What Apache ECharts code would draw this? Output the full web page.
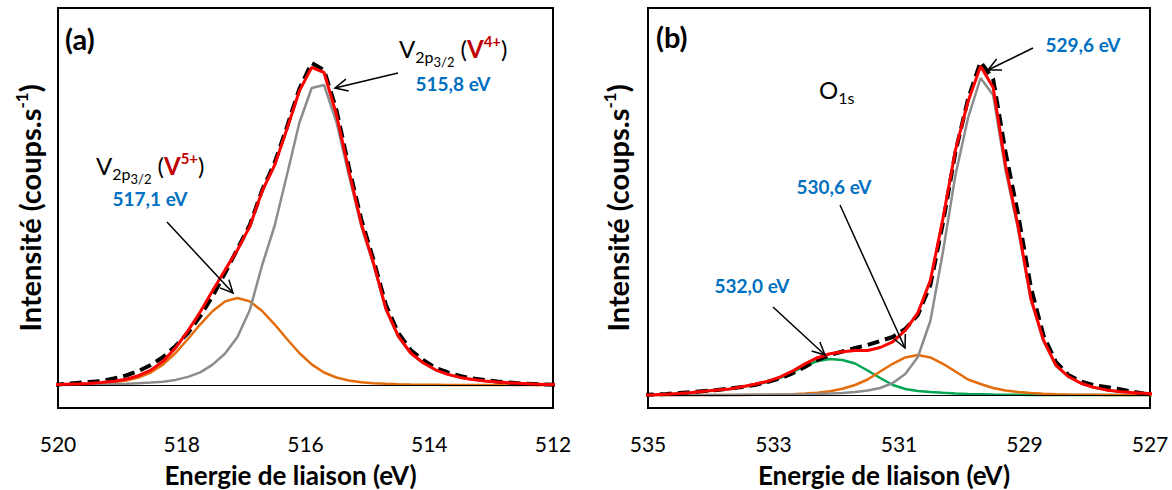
<!DOCTYPE html>
<html>
<head>
<meta charset="utf-8">
<script src="https://cdn.jsdelivr.net/npm/echarts@6/dist/echarts.min.js"></script>
<style>
html,body{margin:0;padding:0;background:#fff;}
#chart{width:1172px;height:490px;}
</style>
</head>
<body>
<div id="chart"></div>
<script>
// ---------------- DATA ----------------
// Panel (a): V 2p3/2 region (binding energy, eV)
const energyA = [520.1,519.9,519.7,519.5,519.3,519.1,518.9,518.7,518.5,518.3,518.1,517.9,517.7,517.5,517.3,517.1,516.9,516.7,516.5,516.3,516.1,515.9,515.7,515.5,515.3,515.1,514.9,514.7,514.5,514.3,514.1,513.9,513.7,513.5,513.3,513.1,512.9,512.7,512.5,512.3,512.1,511.9];
const expA    = [0,1,2,3,4,6.5,9.5,14,20,28,39,52,69,89,112,136,160,195,222,258,296,322,315,275,218,166,125,80,52,35,25,17,12.5,9,6.5,5,3.5,2.5,1.5,1,0.5,0];
const v4A     = [0.1,0.2,0.3,0.3,0.6,0.9,1.2,1.8,2.4,3.3,5.1,8.1,12.6,20.4,31.5,48,75,120,159,210,262,297,300,263,210,159,120,75,48,31.5,22,15,10.5,7.5,5.5,4,3,2.2,1.6,1,0.6,0.3];
const v5A     = [0.3,0.5,0.8,1.2,1.8,2.8,4.5,7.5,12.5,20.6,32,46,60.7,74,83.6,87,83.6,74,60.7,46,32,20.6,12.5,7.5,4.5,2.8,1.8,1.2,0.8,0.5,0.3,0.2,0.1,0.1,0,0,0,0,0,0,0,0];
const fitA    = [0.4,0.7,1.1,1.5,2.4,3.7,5.7,9.3,14.9,23.9,37.1,54.1,73.3,94.4,115.1,135,158.6,194,219.7,256,294,317.6,312.5,270.5,214.5,161.8,121.8,76.2,48.8,32,22.3,15.2,10.6,7.6,5.5,4,3,2.2,1.6,1,0.6,0.3];
const ticksA  = [520,518,516,514,512];

// Panel (b): O 1s region
const energyB = [535.1,534.9,534.7,534.5,534.3,534.1,533.9,533.7,533.5,533.3,533.1,532.9,532.7,532.5,532.3,532.1,531.9,531.7,531.5,531.3,531.1,530.9,530.7,530.5,530.3,530.1,529.9,529.7,529.5,529.3,529.1,528.9,528.7,528.5,528.3,528.1,527.9,527.7,527.5,527.3,527.1,526.9];
const expB    = [0,0.5,1,2,3,4,5,6.5,8,10,13,16.5,21.5,28,35,40,43.5,47,50,54,58,66,80,110,172,243,296,333,316,242,180,108,60,33,20,13.5,10,8,6,3.5,1.5,0.5];
const o529B   = [0,0,0,0.1,0.1,0.1,0.1,0.1,0.2,0.2,0.3,0.4,0.5,0.7,1,1.4,2,3,4.5,7,12,21,38,74,143,220,277,317,300,224,165,95,54,29,18,11.5,7.5,5,3.5,2.5,1.7,1.2];
const o530B   = [0,0,0,0,0,0,0,0,0.1,0.2,0.3,0.5,0.8,1.4,2.3,3.8,6.2,10,15.5,23.5,31.2,37.6,40,37.6,31.2,23.5,15.5,11,7,4.5,3,2,1.2,0.8,0.5,0.3,0.2,0.1,0,0,0,0];
const o532B   = [0,0.3,0.8,1.5,2.5,3.7,4.8,6,8,10.3,13,17,22.5,29,34,36,35,31.5,24.5,17,10,6,4,3,2.2,1.6,1.1,0.8,0.5,0.3,0.2,0.1,0.1,0,0,0,0,0,0,0,0,0];
const fitB    = [0,0.3,0.8,1.6,2.6,3.8,4.9,6.1,8.3,10.7,13.6,17.9,23.8,31.1,37.3,41.2,43.2,44.5,44.5,47.5,53.2,64.6,82,114.6,176.4,245.1,293.6,328.8,307.5,228.8,168.2,97.1,55.3,29.8,18.5,11.8,7.7,5.1,3.5,2.5,1.7,1.2];
const ticksB  = [535,533,531,529,527];

// ---------------- STYLE / LAYOUT ----------------
const FONT = 'Lato, "Open Sans", sans-serif';
const C = {red:'#FF0000', gray:'#8C8C8C', orange:'#E46C0A', green:'#00A651', blue:'#0070C0', dark:'#C00000'};

function pairs(xs, ys){ return xs.map((x,i)=>[x, ys[i]]); }

function line(name, xi, xs, ys, color, width, dash, z){
  return {
    name, type:'line', xAxisIndex:xi, yAxisIndex:xi, data:pairs(xs,ys),
    showSymbol:false, symbol:'none', smooth:false, silent:true, z:z,
    lineStyle:{color, width, type:dash||'solid', cap:'butt'}
  };
}
function baseline(xi){
  return {type:'line', xAxisIndex:xi, yAxisIndex:xi, data:[], silent:true, z:1,
    markLine:{silent:true, symbol:['none','none'], label:{show:false},
      lineStyle:{color:'#000', width:1, type:'solid'}, data:[{yAxis:0}], animation:false}};
}

function xAxis(gi, lo, hi, ticks){
  return {
    gridIndex:gi, type:'value', min:lo, max:hi, inverse:true,
    axisLine:{show:false}, axisTick:{show:false}, splitLine:{show:false},
    axisLabel:{show:true, customValues:ticks, fontSize:21, color:'#000', fontFamily:FONT, margin:25},
    name:'Energie de liaison (eV)', nameLocation:'middle', nameGap:54,
    nameTextStyle:{fontSize:26, fontWeight:'bold', color:'#000', fontFamily:FONT, padding:[0,30,0,0]}
  };
}
function yAxis(gi, lo, hi, gap){
  return {
    gridIndex:gi, type:'value', min:lo, max:hi,
    axisLine:{show:false}, axisTick:{show:false}, splitLine:{show:false}, axisLabel:{show:false},
    name:'{t|Intensité (coups.s}{s|-1}{t|)}', nameLocation:'middle', nameGap:gap, nameRotate:90,
    nameTextStyle:{color:'#000', rich:{
      t:{fontSize:29, fontWeight:'bold', fontFamily:FONT, color:'#000', lineHeight:32},
      s:{fontSize:17, fontWeight:'bold', fontFamily:FONT, color:'#000', lineHeight:14, verticalAlign:'top'}
    }}
  };
}

const option = {
  animation:false,
  backgroundColor:'#fff',
  grid:[
    {left:58, top:8, width:495, height:400, show:true, borderColor:'#000', borderWidth:2,
     backgroundColor:'transparent', containLabel:false, outerBoundsMode:'none'},
    {left:648, top:8, width:502, height:400, show:true, borderColor:'#000', borderWidth:2,
     backgroundColor:'transparent', containLabel:false, outerBoundsMode:'none'}
  ],
  xAxis:[ xAxis(0, 512, 520, ticksA), xAxis(1, 527, 535, ticksB) ],
  yAxis:[ yAxis(0, -23, 377, 13), yAxis(1, -13, 387, 15) ],
  series:[
    baseline(0),
    line('V5+', 0, energyA, v5A, C.orange, 2.5, null, 2),
    line('V4+', 0, energyA, v4A, C.gray, 2.5, null, 3),
    line('exp', 0, energyA, expA, '#000', 4, [12,6], 4),
    line('fit', 0, energyA, fitA, C.red, 3, null, 5),
    baseline(1),
    line('532.0', 1, energyB, o532B, C.green, 2.5, null, 2),
    line('530.6', 1, energyB, o530B, C.orange, 2.5, null, 2),
    line('529.6', 1, energyB, o529B, C.gray, 2.5, null, 3),
    line('exp', 1, energyB, expB, '#000', 4, [12,6], 4),
    line('fit', 1, energyB, fitB, C.red, 3, null, 5)
  ]
};

const chart = echarts.init(document.getElementById('chart'), null, {renderer:'svg', width:1172, height:490});
chart.setOption(option);

// ---------------- ANNOTATIONS ----------------
const mctx = document.createElement('canvas').getContext('2d');
function tw(t, size, weight){ mctx.font = (weight||'normal')+' '+size+'px '+FONT; return mctx.measureText(t).width; }
function txt(t, x, y, size, weight, color, align){
  return {type:'text', silent:true, z:100, x:x, y:y,
    style:{text:t, fontSize:size, fontWeight:weight||'normal', fontFamily:FONT, fill:color||'#000',
      align:align||'left', verticalAlign:'middle', textAlign:align||'left', textVerticalAlign:'middle'}};
}
// sequence of fragments placed on a common baseline
function rich(parts, x, base){
  const out=[]; let cx=x;
  parts.forEach(p=>{
    const y = base + (p.dy||0) - 0.33*p.size;
    out.push(txt(p.t, cx, y, p.size, p.w, p.c));
    cx += tw(p.t, p.size, p.w);
  });
  return out;
}
function vLabel(x, base, ion){
  return rich([
    {t:'V', size:24},
    {t:'2p', size:16, dy:6},
    {t:'3/2', size:13, dy:10},
    {t:' (', size:24},
    {t:'V', size:24, w:'bold', c:C.dark},
    {t:ion, size:15, w:'bold', c:C.dark, dy:-10},
    {t:')', size:24}
  ], x, base);
}
function arrow(x1,y1,x2,y2){
  const a = Math.atan2(y2-y1, x2-x1), L=14, s=0.45;
  const h1=[x2-L*Math.cos(a-s), y2-L*Math.sin(a-s)], h2=[x2-L*Math.cos(a+s), y2-L*Math.sin(a+s)];
  const st={stroke:'#000', lineWidth:1.5, fill:null};
  return [
    {type:'polyline', silent:true, z:90, shape:{points:[[x1,y1],[x2,y2]]}, style:st},
    {type:'polyline', silent:true, z:90, shape:{points:[h1,[x2,y2],h2]}, style:st}
  ];
}

const els = [].concat(
  [txt('(a)', 65, 38, 29, 'bold'), txt('(b)', 656, 36, 29, 'bold')],
  vLabel(399, 56, '4+'),
  [txt('515,8 eV', 453, 83, 19, 'bold', C.blue, 'center')],
  arrow(398, 73, 335, 88),
  vLabel(96, 173, '5+'),
  [txt('517,1 eV', 150, 198, 19, 'bold', C.blue, 'center')],
  arrow(167, 222, 233, 293),
  [txt('529,6 eV', 1083, 44, 19, 'bold', C.blue, 'center')],
  arrow(1033, 48, 988, 70),
  rich([{t:'O', size:24},{t:'1s', size:16, dy:6}], 819, 97),
  [txt('530,6 eV', 834, 186, 19, 'bold', C.blue, 'center')],
  arrow(840, 205, 905, 348),
  [txt('532,0 eV', 752, 285, 19, 'bold', C.blue, 'center')],
  arrow(773, 307, 825, 355)
);
chart.setOption({graphic:{elements:els}});
</script>
</body>
</html>
